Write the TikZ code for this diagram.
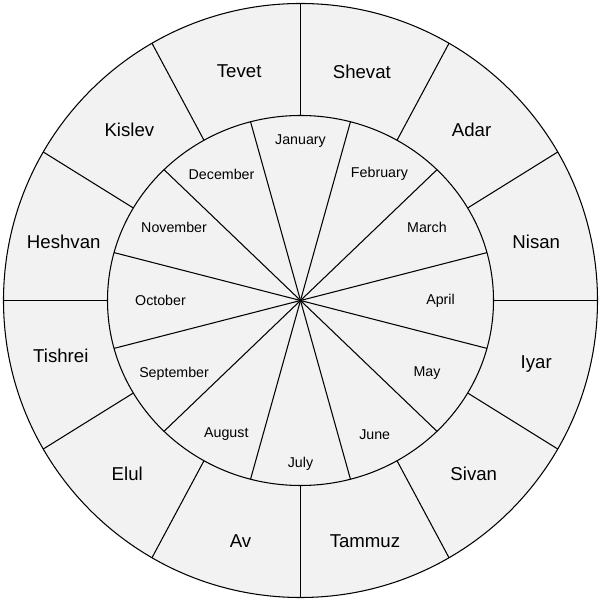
\documentclass[tikz,border=0pt]{standalone}
\usepackage{fontspec}
\setmainfont{Liberation Sans}
\definecolor{ringfill}{HTML}{F2F2F2}

\begin{document}
\begin{tikzpicture}[x=0.02cm, y=0.02cm, line width=0.6pt,
	hebrew/.style={font=\fontsize{10.6pt}{12pt}\selectfont},
	greg/.style={font=\fontsize{8.1pt}{10pt}\selectfont}]
	\useasboundingbox (-300.5,-299.5) rectangle (299.5,300.5);
	\fill [ringfill] (0,0) circle [radius=297];
	\draw (0,0) circle [radius=297];
	\draw (0,0) ellipse [x radius=193, y radius=185];
	
	\coordinate (c) at (0,0);
	\foreach \a in {15,45,...,345}
		\draw (c) -- ({193*cos(\a)},{185*sin(\a)});
	\foreach \a in {0,30,...,330}
		\draw ({193*cos(\a)},{185*sin(\a)}) -- (\a:297);
	
	\node [hebrew] (tevet) at (105:237) {Tevet};
	\node [hebrew] (shevat) at (75:237) {Shevat};
	\node [hebrew] (adar) at (45:242) {Adar};
	\node [hebrew] (nisan) at (14:243) {Nisan};
	\node [hebrew] (iyar) at (-15:244) {Iyar};
	\node [hebrew] (sivan) at (-45:245) {Sivan};
	\node [hebrew] (tammuz) at (-75:249) {Tammuz};
	\node [hebrew] (av) at (-104:248) {Av};
	\node [hebrew] (elul) at (-135:245) {Elul};
	\node [hebrew] (tishrei) at (-167:246) {Tishrei};
	\node [hebrew] (heshvan) at (166:244) {Heshvan};
	\node [hebrew] (kislev) at (135:242) {Kislev};
	
	\node [greg] (jan) at (90:159) {January};
	\node [greg] (feb) at (58:149) {February};
	\node [greg] (mar) at (30:146) {March};
	\node [greg] (apr) at (0:140) {April};
	\node [greg] (may) at (-30:146) {May};
	\node [greg] (jun) at (-61:153) {June};
	\node [greg] (jul) at (-90:163) {July};
	\node [greg] (aug) at (-119:153) {August};
	\node [greg] (sep) at (-150:146) {September};
	\node [greg] (oct) at (180:140) {October};
	\node [greg] (nov) at (150:146) {November};
	\node [greg] (dec) at (122:149) {December};
\end{tikzpicture}
\end{document}
